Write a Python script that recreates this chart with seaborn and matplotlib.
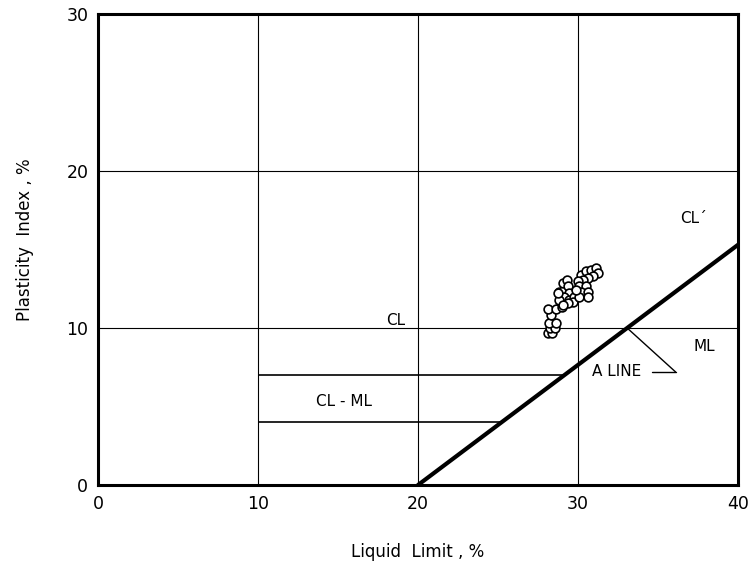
import matplotlib
matplotlib.use("Agg")
import matplotlib.pyplot as plt
import seaborn as sns
import pandas as pd

# ---- data ----
liquid_limit = [28.1, 28.4, 28.25, 28.58, 28.21, 28.63, 28.31, 28.11, 28.63, 29.0,
                28.83, 29.15, 29.04, 29.29, 29.35, 29.46, 29.15, 28.83, 29.46, 29.77,
                29.67, 29.35, 29.04, 28.73,
                30.19, 30.5, 30.81, 31.13, 31.23, 30.92, 30.6, 30.29, 29.98, 30.08,
                30.5, 30.19, 30.6, 30.08, 30.6, 29.88]
plasticity_index = [9.68, 9.68, 10.0, 10.0, 10.32, 10.32, 10.8, 11.18, 11.18, 11.35,
                    12.32, 12.43, 12.86, 13.06, 12.65, 12.21, 12.0, 11.79, 11.79, 12.0,
                    11.68, 11.57, 11.46, 12.2,
                    13.4, 13.6, 13.72, 13.83, 13.5, 13.29, 13.18, 13.08, 12.97, 12.65,
                    12.65, 12.32, 12.32, 12.0, 12.0, 12.43]

a_line_ll = [20, 40]
a_line_pi = [0, 15.3]

clml_levels = [7, 4]          # PI of the CL-ML boundary lines
clml_start = [10, 10]         # LL where they start

x_ticks = [0, 10, 20, 30, 40]
y_ticks = [0, 10, 20, 30]
x_grid = [10, 20, 30]
y_grid = [10, 20]

region_labels = ["CL", "CL - ML", "CL\u00b4", "ML"]
region_x = [18.6, 15.4, 37.2, 37.9]
region_y = [10.5, 5.3, 17.0, 8.85]

a_label = "A LINE"
a_label_xy = (32.4, 7.2)
leader_x = [34.6, 36.1]
leader_y = [7.2, 7.2]

# ---- figure ----
sns.set_theme(style="white")
plt.rcParams['font.family'] = ['DejaVu Sans']

fig = plt.figure(figsize=(7.51, 5.68), dpi=100)
ax = fig.add_axes([98/751, 1-485/568, 640/751, 471/568])

ax.set_xlim(0, 40)
ax.set_ylim(0, 30)

for gx in x_grid:
    ax.axvline(gx, color="black", lw=0.8, zorder=1)
for gy in y_grid:
    ax.axhline(gy, color="black", lw=0.8, zorder=1)

# A-line
sns.lineplot(x=a_line_ll, y=a_line_pi, ax=ax, color="black", lw=3, zorder=3)

slope = (a_line_pi[1]-a_line_pi[0])/(a_line_ll[1]-a_line_ll[0])
for lvl, st in zip(clml_levels, clml_start):
    end = a_line_ll[0] + lvl / slope
    ax.hlines(lvl, st, end, color="black", lw=1.2, zorder=2)

# leader lines for "A LINE"
x_at10 = a_line_ll[0] + 10 / slope
ax.plot(leader_x, leader_y, color="black", lw=1.0)
ax.plot([x_at10, leader_x[1]], [10, leader_y[1]], color="black", lw=1.0)

df = pd.DataFrame({"LL": liquid_limit, "PI": plasticity_index})
sns.scatterplot(data=df, x="LL", y="PI", ax=ax, s=40, marker="o",
                facecolor="white", edgecolor="black", linewidth=1.2, zorder=4)

for t, x, y in zip(region_labels, region_x, region_y):
    ax.text(x, y, t, ha="center", va="center", fontsize=11, color="black")
ax.text(a_label_xy[0], a_label_xy[1], a_label, ha="center", va="center",
        fontsize=11, color="black")

ax.set_xticks(x_ticks)
ax.set_yticks(y_ticks)
ax.set_xticklabels([str(v) for v in x_ticks])
ax.set_yticklabels([str(v) for v in y_ticks])
ax.tick_params(axis="both", length=0, labelsize=12.5, colors="black", pad=7)

for sp in ax.spines.values():
    sp.set_visible(True)
    sp.set_color("black")
    sp.set_linewidth(2.2)

ax.set_xlabel("Liquid  Limit , %", fontsize=12, labelpad=22, color="black")
ax.set_ylabel("Plasticity  Index , %", fontsize=12, labelpad=26, color="black")
ax.yaxis.set_label_coords(-0.1, 0.52)
ax.grid(False)

fig.savefig("out.png", dpi=100)
